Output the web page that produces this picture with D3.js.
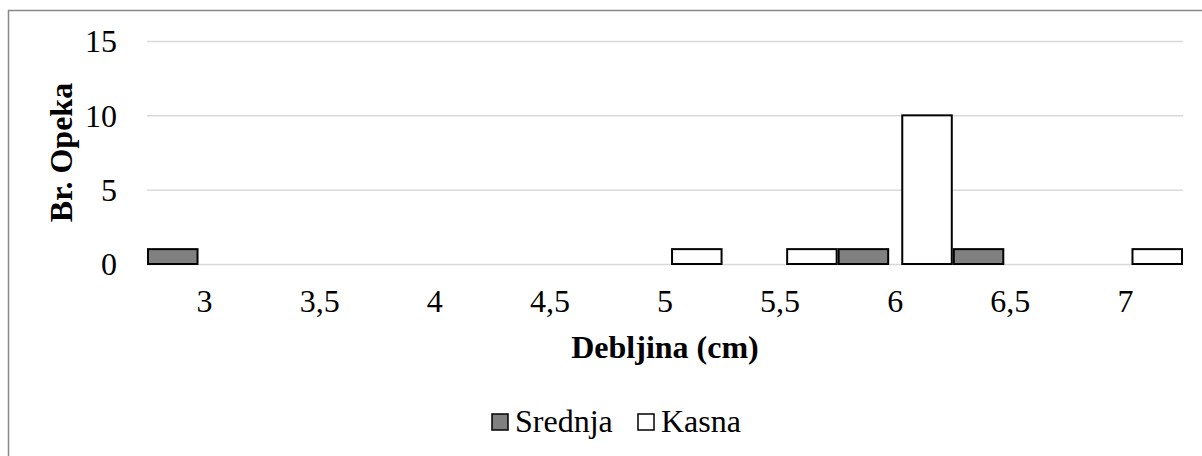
<!DOCTYPE html>
<html>
<head>
<meta charset="utf-8">
<script src="https://cdn.jsdelivr.net/npm/d3@7"></script>
<style>
  html, body { margin: 0; padding: 0; background: #fff; }
  svg { display: block; }
</style>
</head>
<body>
<svg id="chart" width="1202" height="456"></svg>
<script>
const categories = ["3", "3,5", "4", "4,5", "5", "5,5", "6", "6,5", "7"];
const seriesNames = ["Srednja", "Kasna"];
const srednja = [1, 0, 0, 0, 0, 0, 1, 1, 0];
const kasna = [0, 0, 0, 0, 1, 1, 10, 0, 1];
const yTicks = [0, 5, 10, 15];
const seriesColors = ["#808080", "#ffffff"];

const FONT = "Liberation Serif";
const FS = "32px";
const svg = d3.select("#chart");
const W = 1202, H = 456;
const plot = { left: 147, right: 1183, top: 41, bottom: 264 };

svg.append("rect").attr("x", 0).attr("y", 0).attr("width", W).attr("height", H).attr("fill", "#fff");
// outer chart border (extends beyond visible area right/bottom)
svg.append("rect")
  .attr("x", 8.5).attr("y", 10.5).attr("width", 1210).attr("height", 470)
  .attr("fill", "none").attr("stroke", "#878787").attr("stroke-width", 1.5);

const x0 = d3.scaleBand().domain(categories).range([plot.left, plot.right]).paddingInner(0).paddingOuter(0);
const x1 = d3.scaleBand().domain(seriesNames).range([0, x0.bandwidth()]).paddingInner(0.19).paddingOuter(0);
const y = d3.scaleLinear().domain([0, 15]).range([plot.bottom, plot.top]);

// gridlines + y tick labels
const yAxis = d3.axisLeft(y).tickValues(yTicks).tickSize(-(plot.right - plot.left)).tickFormat(d => d);
const gy = svg.append("g").attr("transform", `translate(${plot.left},0)`).call(yAxis);
gy.select(".domain").remove();
gy.selectAll(".tick line").attr("stroke", "#d9d9d9").attr("stroke-width", 1.5);
gy.selectAll(".tick text")
  .style("font-family", FONT).style("font-size", FS)
  .attr("fill", "#000").attr("dy", "0.34em").attr("x", 117 - plot.left);

// bars
const seriesData = [srednja, kasna];
const barData = [];
categories.forEach((c, i) => {
  seriesNames.forEach((s, j) => {
    const v = seriesData[j][i];
    if (v > 0) barData.push({ c, s, v, color: seriesColors[j] });
  });
});
svg.append("g").selectAll("rect").data(barData).join("rect")
  .attr("x", d => x0(d.c) + x1(d.s) + 1)
  .attr("y", d => y(d.v))
  .attr("width", x1.bandwidth() - 2)
  .attr("height", d => y(0) - y(d.v))
  .attr("fill", d => d.color)
  .attr("stroke", "#000").attr("stroke-width", 2);

// x axis labels
const xAxis = d3.axisBottom(x0).tickSize(0).tickPadding(0);
const gx = svg.append("g").attr("transform", `translate(0,${plot.bottom})`).call(xAxis);
gx.select(".domain").remove();
gx.selectAll(".tick text")
  .style("font-family", FONT).style("font-size", FS)
  .attr("fill", "#000").attr("y", 48).attr("dy", 0);

// axis titles
svg.append("text")
  .attr("x", (plot.left + plot.right) / 2).attr("y", 358)
  .attr("text-anchor", "middle")
  .style("font-family", FONT).style("font-size", FS).style("font-weight", "bold")
  .text("Debljina (cm)");
svg.append("text")
  .attr("transform", `translate(72,${(plot.top + plot.bottom) / 2}) rotate(-90)`)
  .attr("text-anchor", "middle")
  .style("font-family", FONT).style("font-size", FS).style("font-weight", "bold")
  .text("Br. Opeka");

// legend
const legend = svg.append("g");
const legendItems = [
  { name: seriesNames[0], color: seriesColors[0], x: 491 },
  { name: seriesNames[1], color: seriesColors[1], x: 637 }
];
legendItems.forEach(it => {
  legend.append("rect").attr("x", it.x + 1).attr("y", 414).attr("width", 16).attr("height", 16)
    .attr("fill", it.color).attr("stroke", "#000").attr("stroke-width", 1.5);
  legend.append("text").attr("x", it.x + 24).attr("y", 432)
    .style("font-family", FONT).style("font-size", FS).text(it.name);
});
</script>
</body>
</html>
